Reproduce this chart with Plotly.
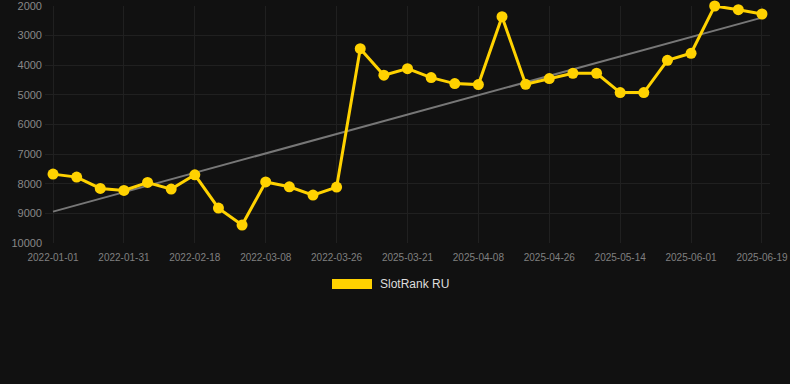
import numpy as np
import plotly.graph_objects as go

dates = [
    "2022-01-01", "2022-01-11", "2022-01-21", "2022-01-31", "2022-02-06", "2022-02-12",
    "2022-02-18", "2022-02-24", "2022-03-02", "2022-03-08", "2022-03-14", "2022-03-20",
    "2022-03-26", "2025-03-09", "2025-03-15", "2025-03-21", "2025-03-27", "2025-04-02",
    "2025-04-08", "2025-04-14", "2025-04-20", "2025-04-26", "2025-05-02", "2025-05-08",
    "2025-05-14", "2025-05-20", "2025-05-26", "2025-06-01", "2025-06-07", "2025-06-13",
    "2025-06-19",
]
rank = [
    7675, 7776, 8159, 8227, 7957, 8180, 7698, 8822, 9395, 7940, 8102, 8383,
    8113, 3439, 4337, 4114, 4417, 4620, 4653, 2360, 4642, 4450, 4270, 4270,
    4922, 4922, 3832, 3596, 2000, 2124, 2270,
]
series_name = "SlotRank RU"
y_ticks = [2000, 3000, 4000, 5000, 6000, 7000, 8000, 9000, 10000]
y_tick_text = [str(v) for v in y_ticks]
x_tick_labels = dates[::3]

idx = np.arange(len(rank))
slope, intercept = np.polyfit(idx, rank, 1)
trend = [intercept, intercept + slope * idx[-1]]

YELLOW = "#FFD200"
BG = "#111111"
GRID = "#202020"

fig = go.Figure()
fig.add_trace(go.Scatter(
    x=[dates[0], dates[-1]], y=trend, mode="lines",
    line=dict(color="#777777", width=2), showlegend=False, hoverinfo="skip",
))
fig.add_trace(go.Scatter(
    x=dates, y=rank, mode="lines+markers", name=series_name,
    line=dict(color=YELLOW, width=3),
    marker=dict(color=YELLOW, size=11),
    cliponaxis=False, showlegend=False,
))

fig.update_layout(
    width=790, height=384,
    margin=dict(l=45, r=20, t=6, b=141, autoexpand=False),
    paper_bgcolor=BG, plot_bgcolor=BG,
    font=dict(family="Liberation Sans, Arial, sans-serif", color="#888888"),
    xaxis=dict(
        type="category", categoryorder="array", categoryarray=dates,
        range=[-0.34, len(dates) - 1 + 0.34], automargin=False,
        tickmode="array", tickvals=x_tick_labels, ticktext=x_tick_labels,
        tickangle=0, tickfont=dict(size=10, color="#808080"),
        showgrid=True, gridcolor=GRID, gridwidth=1,
        zeroline=False, showline=False, ticks="", ticklabelstandoff=7,
        ticklabeloverflow="allow",
    ),
    yaxis=dict(
        range=[10000.01, 1999.99], automargin=False,
        tickmode="array", tickvals=y_ticks, ticktext=y_tick_text,
        tickfont=dict(size=11, color="#888888"),
        showgrid=True, gridcolor=GRID, gridwidth=1,
        zeroline=False, showline=False, ticks="", ticklabelstandoff=2,
        ticklabeloverflow="allow",
    ),
    showlegend=False,
)

# custom legend (box + label) below the plot
fig.add_shape(type="rect", xref="paper", yref="paper",
              x0=(332 - 45) / 725, x1=(372 - 45) / 725,
              y0=(384 - 141 - 289) / 237, y1=(384 - 141 - 279) / 237,
              fillcolor=YELLOW, line=dict(width=0))
fig.add_annotation(text=series_name, xref="paper", yref="paper",
                   x=(378 - 45) / 725, y=(384 - 141 - 284) / 237,
                   xanchor="left", yanchor="middle", showarrow=False,
                   font=dict(size=12, color="#DDDDDD"))

fig.write_html("out.html")
